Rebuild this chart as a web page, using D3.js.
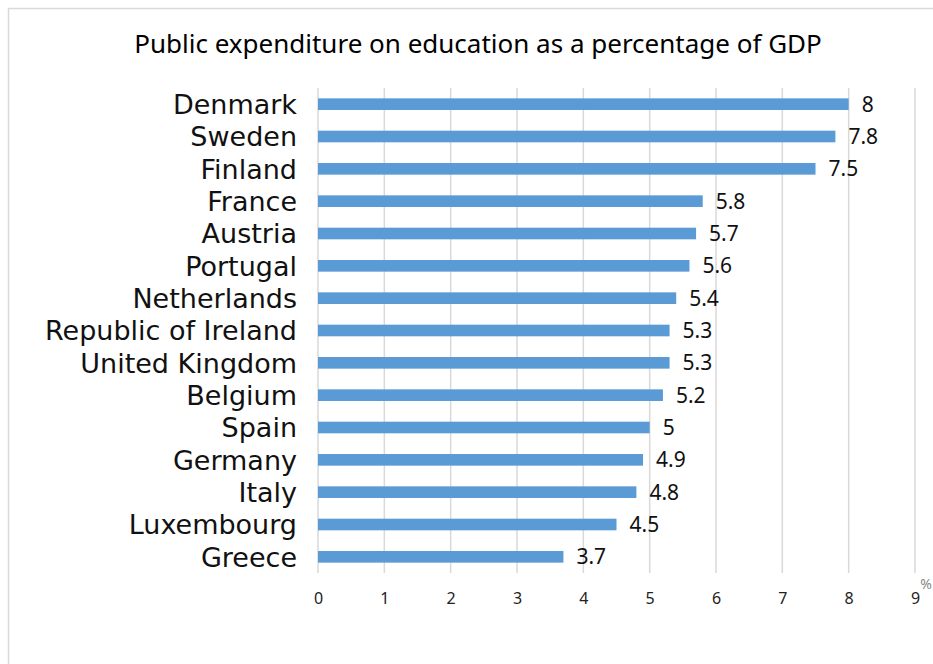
<!DOCTYPE html>
<html>
<head>
<meta charset="utf-8">
<script src="https://cdn.jsdelivr.net/npm/d3@7"></script>
<style>
body { margin: 0; background: #fff; }
text { font-family: "Noto Sans", "Open Sans", sans-serif; }
</style>
</head>
<body>
<div id="chart"></div>
<script>
var countries = ["Denmark", "Sweden", "Finland", "France", "Austria", "Portugal", "Netherlands",
	"Republic of Ireland", "United Kingdom", "Belgium", "Spain", "Germany", "Italy", "Luxembourg", "Greece"];
var values = [8, 7.8, 7.5, 5.8, 5.7, 5.6, 5.4, 5.3, 5.3, 5.2, 5, 4.9, 4.8, 4.5, 3.7];
var ticks = [0, 1, 2, 3, 4, 5, 6, 7, 8, 9];

var width = 933, height = 664;
var plotLeft = 318, plotRight = 915, plotTop = 88, plotBottom = 573;

var svg = d3.select("#chart").append("svg")
	.attr("width", width)
	.attr("height", height);

// outer frame
svg.append("rect")
	.attr("x", 8.5).attr("y", 8.5)
	.attr("width", width + 10).attr("height", height + 10)
	.attr("fill", "none")
	.attr("stroke", "#d9d9d9")
	.attr("stroke-width", 1.5);

svg.append("text")
	.attr("x", 478).attr("y", 53)
	.attr("text-anchor", "middle")
	.style("font-size", "26px")
	.style("fill", "#000")
	.text("Public expenditure on education as a percentage of GDP");

var x = d3.scaleLinear().domain([0, 9]).range([plotLeft, plotRight]);
var y = d3.scaleBand().domain(countries).range([plotTop, plotBottom]).paddingInner(0.64).paddingOuter(0.32);

// grid lines
svg.append("g").selectAll("line")
	.data(ticks)
	.enter().append("line")
	.attr("x1", function(d) { return x(d); })
	.attr("x2", function(d) { return x(d); })
	.attr("y1", plotTop).attr("y2", plotBottom)
	.attr("stroke", "#d9d9d9")
	.attr("stroke-width", 1.5);

// x axis labels
var xAxis = d3.axisBottom(x).tickValues(ticks).tickSize(0).tickPadding(0);
var gx = svg.append("g")
	.attr("transform", "translate(0," + (plotBottom + 20) + ")")
	.call(xAxis);
gx.select(".domain").remove();
gx.selectAll("text")
	.style("font-size", "16px")
	.style("fill", "#222")
	.style("font-family", "'Noto Sans', sans-serif");

svg.append("text")
	.attr("x", 926).attr("y", 589)
	.attr("text-anchor", "middle")
	.style("font-size", "14px")
	.style("fill", "#888")
	.text("%");

// y axis labels
var yAxis = d3.axisLeft(y).tickSize(0).tickPadding(21);
var gy = svg.append("g")
	.attr("transform", "translate(" + plotLeft + ",0)")
	.call(yAxis);
gy.select(".domain").remove();
gy.selectAll("text")
	.attr("dy", "0.36em")
	.style("font-size", "27px")
	.style("fill", "#111")
	.style("font-family", "'DejaVu Sans', sans-serif");

// bars
svg.append("g").selectAll("rect")
	.data(values)
	.enter().append("rect")
	.attr("x", x(0))
	.attr("y", function(d, i) { return y(countries[i]); })
	.attr("width", function(d) { return x(d) - x(0); })
	.attr("height", y.bandwidth())
	.attr("fill", "#5b9bd5");

// value labels
svg.append("g").selectAll("text")
	.data(values)
	.enter().append("text")
	.attr("x", function(d) { return x(d) + 13; })
	.attr("y", function(d, i) { return y(countries[i]) + y.bandwidth() / 2; })
	.attr("dy", "0.35em")
	.style("font-size", "21px")
	.style("fill", "#111")
	.text(function(d) { return d; });
</script>
</body>
</html>
